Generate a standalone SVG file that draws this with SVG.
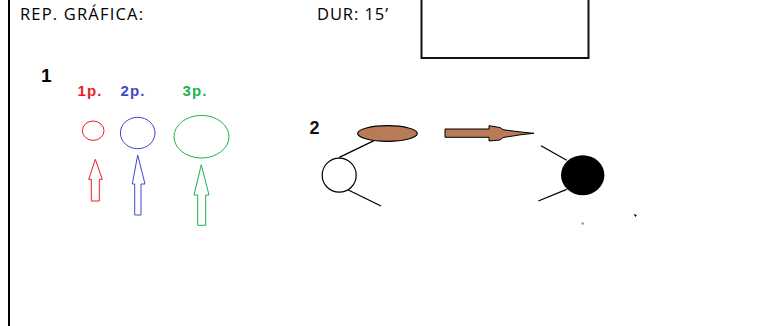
<svg xmlns="http://www.w3.org/2000/svg" width="763" height="326" viewBox="0 0 763 326">
<style>
.t{font-family:"Open Sans","Liberation Sans",Arial,sans-serif;fill:#000}
.b{font-family:"Liberation Sans",Arial,sans-serif;font-weight:bold}
.ln{stroke:#000;stroke-width:1.3;fill:none}
</style>
<rect width="763" height="326" fill="#fff"/>
<line x1="9" y1="0" x2="9" y2="326" stroke="#000" stroke-width="2"/>
<text class="t" x="20" y="19.5" font-size="16.5" textLength="123">REP. GRÁFICA:</text>
<text class="t" x="317" y="19.5" font-size="16.5" textLength="71">DUR: 15’</text>
<rect x="421.5" y="-2" width="167" height="60" fill="#fff" stroke="#111" stroke-width="2"/>
<g id="n1">
<text class="t b" x="41" y="81.5" font-size="19">1</text>
<text class="t b" x="77.5" y="96" font-size="15" style="fill:#ed1c24" textLength="24">1p.</text>
<text class="t b" x="120.5" y="96" font-size="15" style="fill:#3f48cc" textLength="24">2p.</text>
<text class="t b" x="182.5" y="96" font-size="15" style="fill:#22b14c" textLength="24">3p.</text>
</g>
<g id="p1">
<ellipse cx="93.2" cy="130.7" rx="10.8" ry="9.7" fill="none" stroke="#ed1c24"/>
<polygon points="95.3,159.3 102.3,179.3 99.3,179.3 99.3,201 91.3,201 91.3,179.3 88.7,179.3" fill="none" stroke="#ed1c24"/>
</g>
<g id="p2">
<ellipse cx="137.7" cy="133" rx="17.3" ry="15.7" fill="none" stroke="#3f48cc"/>
<polygon points="137.7,155 145,184 141,184 141,215 134.7,215 134.7,184 132.3,184" fill="none" stroke="#3f48cc"/>
</g>
<g id="p3">
<ellipse cx="201.5" cy="136.7" rx="27.5" ry="21.3" fill="none" stroke="#22b14c"/>
<polygon points="201.3,164.7 209,195 205.7,195 205.7,225.3 197.7,225.3 197.7,195 194,195" fill="none" stroke="#22b14c"/>
</g>
<g id="n2">
<text class="t b" x="309.5" y="133.5" font-size="18" style="fill:#111">2</text>
</g>
<g id="ball">
<ellipse cx="387.5" cy="133.5" rx="29.8" ry="7.8" fill="#b97a57" stroke="#000" stroke-width="1.2"/>
</g>
<g id="openCircle">
<circle cx="339.2" cy="175.2" r="17" fill="#fff" stroke="#000" stroke-width="1.2"/>
</g>
<g id="blackCircle">
<ellipse cx="582.7" cy="175.2" rx="21.7" ry="20" fill="#000"/>
</g>
<g id="connectors">
<line class="ln" x1="374" y1="140.7" x2="339.3" y2="157.3"/>
<line class="ln" x1="348.3" y1="190" x2="381" y2="206"/>
<line class="ln" x1="541" y1="145.7" x2="566.7" y2="160.3"/>
<line class="ln" x1="538.3" y1="201" x2="566.7" y2="189.3"/>
<polygon points="445,129 489,129 489,125.7 500,127.5 503,129.7 513,131 521,132 534,133.3 521,134.7 513,136 503,137.5 500,140 489,141 489,137.3 445,137.3" fill="#b97a57" stroke="#000" stroke-width="1"/>
</g>
<circle cx="582.7" cy="223.5" r="1.3" fill="#c58a66"/>
<path d="M633.5,214 L637,215 L635.5,217 Z" fill="#000"/>
</svg>
